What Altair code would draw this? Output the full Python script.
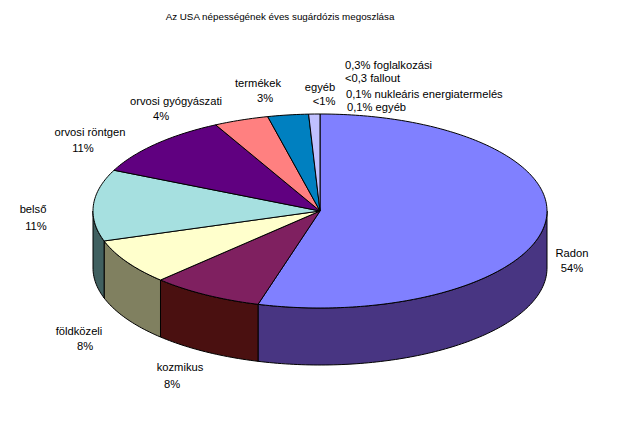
import math
import altair as alt
import pandas as pd

categories = ["Radon", "kozmikus", "földközeli", "belső", "orvosi röntgen",
              "orvosi gyógyászati", "termékek", "egyéb"]
shares = [54.4, 8.0, 7.6, 11.9, 10.5, 3.9, 2.9, 0.8]
percent_labels = ["54%", "8%", "8%", "11%", "11%", "4%", "3%", "<1%"]
title_text = "Az USA népességének éves sugárdózis megoszlása"
note_lines = ["0,3% foglalkozási", "<0,3 fallout", "0,1% nukleáris energiatermelés", "0,1% egyéb"]

top_colors = ["#8080FF", "#7F2060", "#FFFFCC", "#A6E0E0", "#600080", "#FF8080", "#0080C0", "#C0C0FF"]
side_colors = ["#483582", "#4A1010", "#808060", "#406060", "#300040", "#804040", "#004060", "#606080"]

CX, CY, RX, RY, DEPTH = 320, 211, 227, 97, 57


def ell(a, dy=0):
    r = math.radians(a)
    return CX + RX * math.sin(r), CY - RY * math.cos(r) + dy


rows = []
poly = 0
start = 0.0
tops = []
for cat, share, tc, sc in zip(categories, shares, top_colors, side_colors):
    end = start + share * 3.6
    tops.append((cat, start, end, tc))
    lo, hi = max(start, 90), min(end, 270)
    if hi > lo:
        n = max(2, int(hi - lo))
        arc = [lo + (hi - lo) * i / n for i in range(n + 1)]
        pts = [ell(a) for a in arc] + [ell(a, DEPTH) for a in reversed(arc)]
        pts.append(pts[0])
        for i, (x, y) in enumerate(pts):
            rows.append(dict(poly=poly, i=i, x=x, y=y, color=sc))
        poly += 1
    start = end
for cat, a0, a1, tc in tops:
    n = max(2, int(a1 - a0))
    arc = [a0 + (a1 - a0) * i / n for i in range(n + 1)]
    pts = [(CX, CY)] + [ell(a) for a in arc] + [(CX, CY)]
    for i, (x, y) in enumerate(pts):
        rows.append(dict(poly=poly, i=i, x=x, y=y, color=tc))
    poly += 1

df = pd.DataFrame(rows)
xs = alt.Scale(domain=[8, 632], range=[0, 624])
ys = alt.Scale(domain=[8, 432], range=[0, 424])
layers = []
for p, g in df.groupby("poly"):
    layers.append(
        alt.Chart(g).mark_line(fill=g["color"].iloc[0], stroke="#000000", strokeWidth=1, interpolate="linear").encode(
            x=alt.X("x:Q", scale=xs, axis=None),
            y=alt.Y("y:Q", scale=ys, axis=None),
            order="i:Q",
        )
    )

FONT = "Liberation Sans"


def label(text, x, y, align="center", size=11.2):
    return alt.Chart(pd.DataFrame({"t": [text]})).mark_text(
        font=FONT, fontSize=size, align=align, baseline="middle", color="#000000", x=x - 8, y=y - 8
    ).encode(text="t:N")


label_layout = [
    (572, 254, 572, 269), (180, 368, 172, 385), (79, 332, 85, 347), (33, 210, 36, 227),
    (90, 133, 83, 149), (176, 102, 161, 117), (258, 84, 265, 99), (320, 88, 324, 102),
]
for cat, pct, (x1, y1, x2, y2) in zip(categories, percent_labels, label_layout):
    layers.append(label(cat, x1, y1))
    layers.append(label(pct, x2, y2))
layers.append(label(title_text, 280, 17, size=9.8))
for line, (x, y) in zip(note_lines, [(345, 66), (345, 79), (346, 95), (347, 108)]):
    layers.append(label(line, x, y, align="left"))

chart = alt.layer(*layers).properties(width=624, height=424, padding=0, background="#FFFFFF").configure_view(stroke=None)
chart.save("out.html", embed_options={"renderer": "svg", "actions": False})
